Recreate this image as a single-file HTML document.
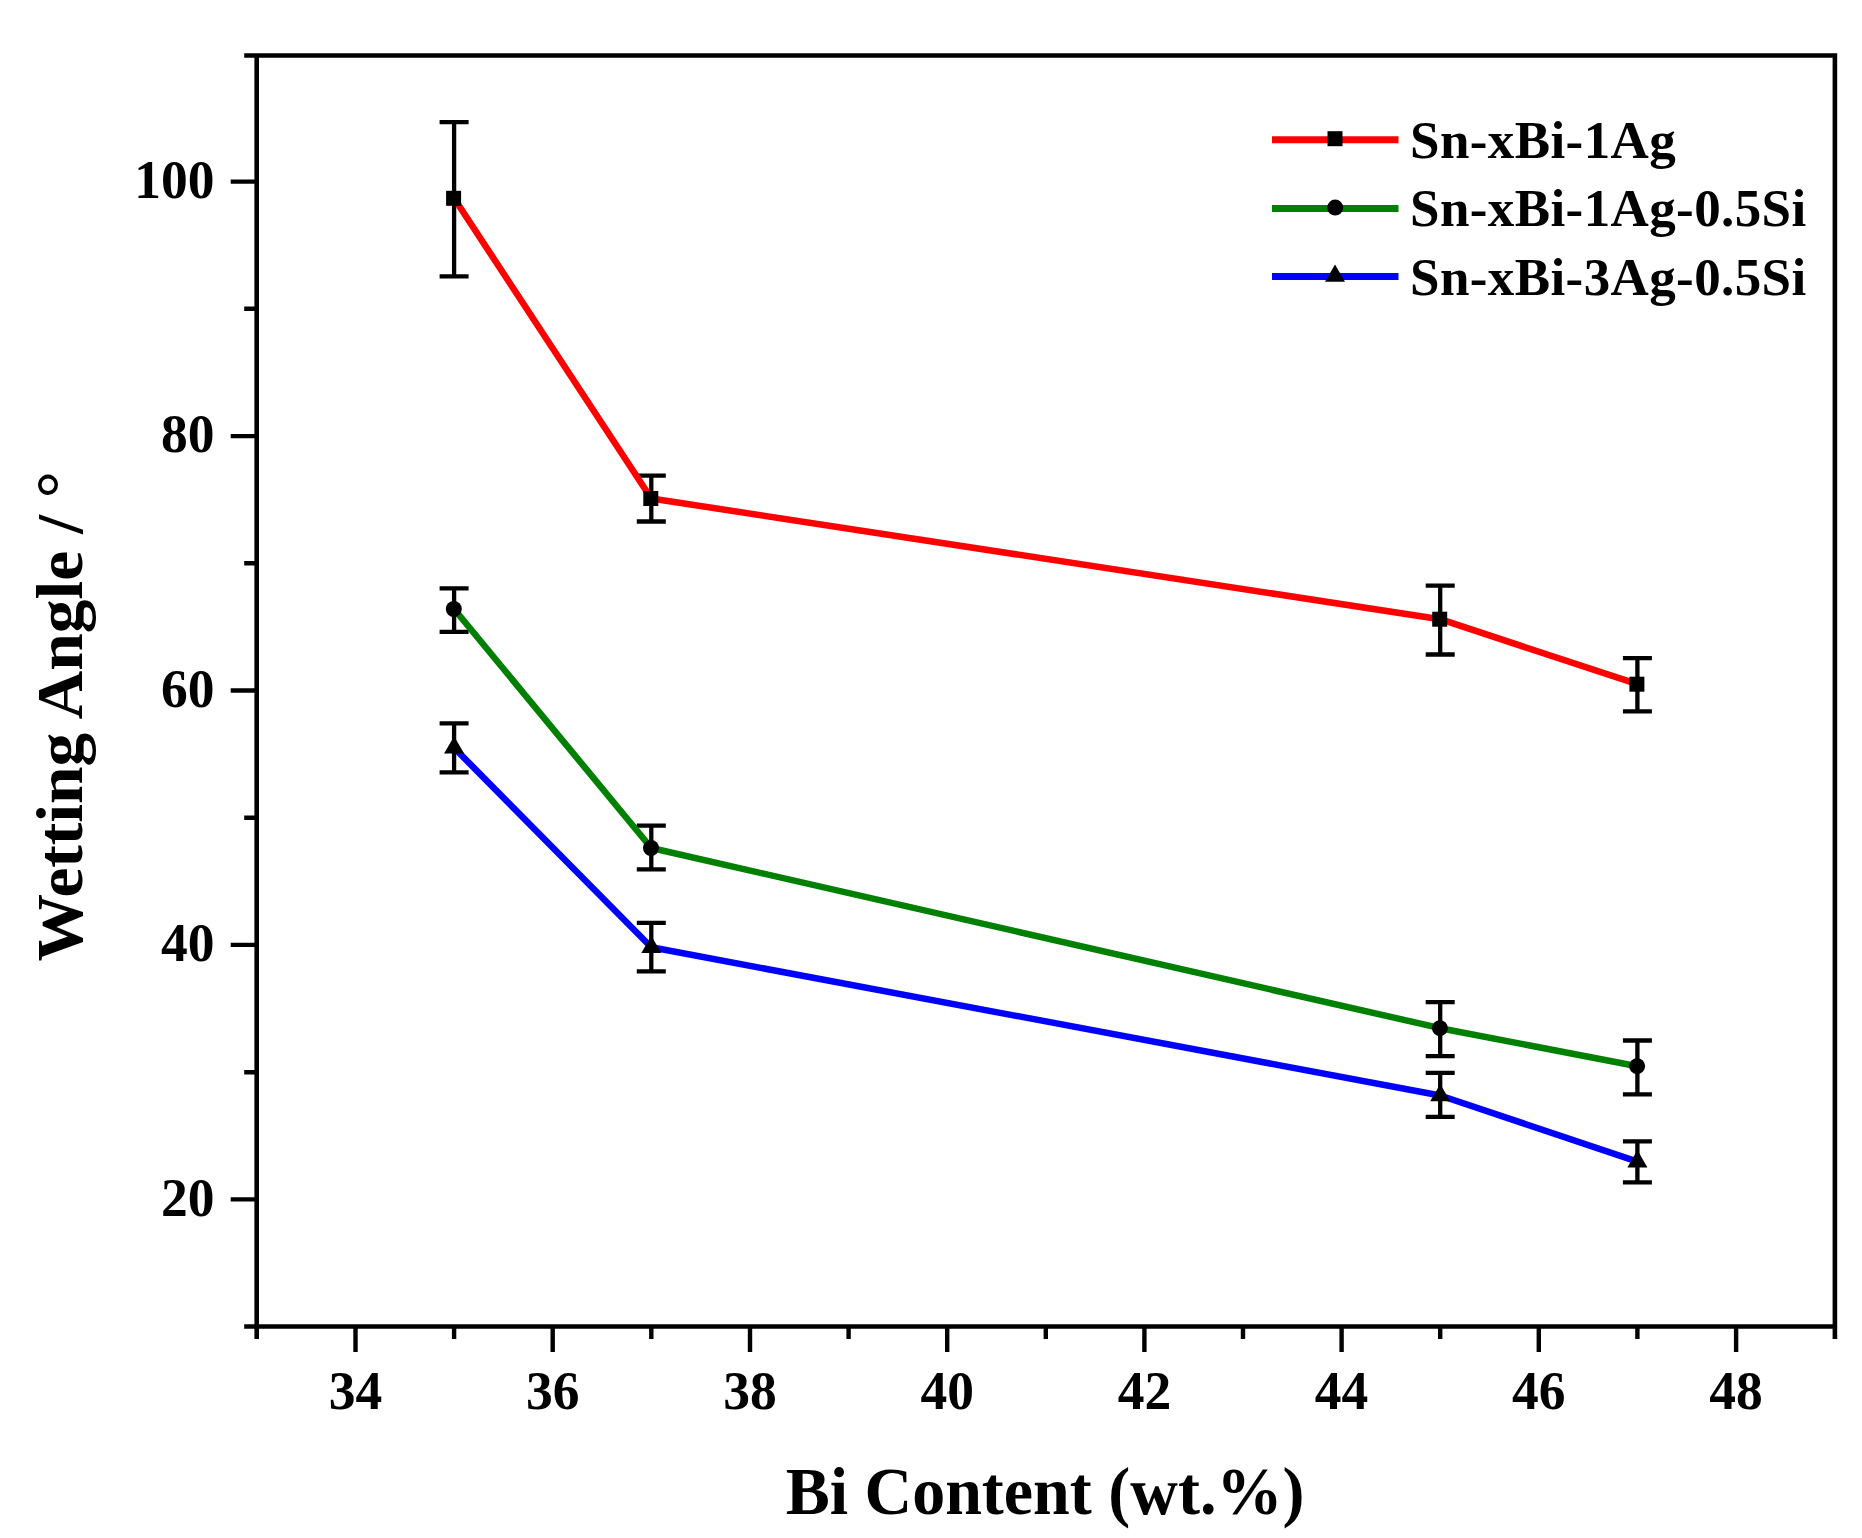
<!DOCTYPE html>
<html><head><meta charset="utf-8"><title>Wetting Angle vs Bi Content</title>
<style>
html,body{margin:0;padding:0;background:#fff;width:1862px;height:1538px;overflow:hidden}
svg{display:block}
text{font-family:"Liberation Serif","Times New Roman",serif;font-weight:bold;fill:#000}
.tl text{font-size:53.5px}
.lg{font-size:53px;letter-spacing:0.4px}
.at{font-size:66px}
</style></head><body>
<svg width="1862" height="1538" viewBox="0 0 1862 1538">
<path d="M244.2 55.5H1834.9V1339M1834.9 1326.5H244.2M256.7 55.5V1339" fill="none" stroke="#000" stroke-width="4.6"/>
<path d="M355.5 1326.5v25.5 M454.1 1326.5v12.5 M552.7 1326.5v25.5 M651.3 1326.5v12.5 M750.0 1326.5v25.5 M848.6 1326.5v12.5 M947.2 1326.5v25.5 M1045.8 1326.5v12.5 M1144.4 1326.5v25.5 M1243.0 1326.5v12.5 M1341.6 1326.5v25.5 M1440.2 1326.5v12.5 M1538.8 1326.5v25.5 M1637.4 1326.5v12.5 M1736.1 1326.5v25.5 M256.7 1199.4h-26 M256.7 1072.2h-12.5 M256.7 944.9h-26 M256.7 817.7h-12.5 M256.7 690.5h-26 M256.7 563.3h-12.5 M256.7 436.1h-26 M256.7 308.8h-12.5 M256.7 181.6h-26" fill="none" stroke="#000" stroke-width="4.4"/>
<g class="tl"><text x="355.5" y="0" transform="translate(0 1409.3) scale(1 1.035)" text-anchor="middle">34</text><text x="552.7" y="0" transform="translate(0 1409.3) scale(1 1.035)" text-anchor="middle">36</text><text x="750.0" y="0" transform="translate(0 1409.3) scale(1 1.035)" text-anchor="middle">38</text><text x="947.2" y="0" transform="translate(0 1409.3) scale(1 1.035)" text-anchor="middle">40</text><text x="1144.4" y="0" transform="translate(0 1409.3) scale(1 1.035)" text-anchor="middle">42</text><text x="1341.6" y="0" transform="translate(0 1409.3) scale(1 1.035)" text-anchor="middle">44</text><text x="1538.8" y="0" transform="translate(0 1409.3) scale(1 1.035)" text-anchor="middle">46</text><text x="1736.1" y="0" transform="translate(0 1409.3) scale(1 1.035)" text-anchor="middle">48</text><text x="214.5" y="0" transform="translate(0 1215.6) scale(1 1.035)" text-anchor="end">20</text><text x="214.5" y="0" transform="translate(0 961.1) scale(1 1.035)" text-anchor="end">40</text><text x="214.5" y="0" transform="translate(0 706.7) scale(1 1.035)" text-anchor="end">60</text><text x="214.5" y="0" transform="translate(0 452.3) scale(1 1.035)" text-anchor="end">80</text><text x="214.5" y="0" transform="translate(0 197.8) scale(1 1.035)" text-anchor="end">100</text></g>
<path d="M454.1 122.1V276.3M439.6 122.1h29.0M439.6 276.3h29.0 M651.3 475.6V521.5M636.8 475.6h29.0M636.8 521.5h29.0 M1440.2 585.6V654.5M1425.7 585.6h29.0M1425.7 654.5h29.0 M1637.4 658.2V711.3M1622.9 658.2h29.0M1622.9 711.3h29.0 M454.1 588.3V631.8M439.6 588.3h29.0M439.6 631.8h29.0 M651.3 825.7V869.4M636.8 825.7h29.0M636.8 869.4h29.0 M1440.2 1002.1V1056.1M1425.7 1002.1h29.0M1425.7 1056.1h29.0 M1637.4 1040.5V1094.3M1622.9 1040.5h29.0M1622.9 1094.3h29.0 M454.1 723.4V772.3M439.6 723.4h29.0M439.6 772.3h29.0 M651.3 922.8V971.4M636.8 922.8h29.0M636.8 971.4h29.0 M1440.2 1072.9V1116.9M1425.7 1072.9h29.0M1425.7 1116.9h29.0 M1637.4 1141.3V1182.4M1622.9 1141.3h29.0M1622.9 1182.4h29.0" fill="none" stroke="#000" stroke-width="4.3"/>
<polyline points="454.1,198.3 651.3,498.5 1440.2,619.2 1637.4,684.2" fill="none" stroke="#f00" stroke-width="6.5" stroke-linejoin="round"/>
<polyline points="454.1,609.0 651.3,848.0 1440.2,1028.2 1637.4,1066.2" fill="none" stroke="#008000" stroke-width="6.5" stroke-linejoin="round"/>
<polyline points="454.1,747.8 651.3,947.3 1440.2,1095.5 1637.4,1161.6" fill="none" stroke="#00f" stroke-width="6.5" stroke-linejoin="round"/>
<g fill="#000"><rect x="446.1" y="190.8" width="15" height="15"/><rect x="643.3" y="491.0" width="15" height="15"/><rect x="1432.2" y="611.7" width="15" height="15"/><rect x="1629.4" y="676.7" width="15" height="15"/><circle cx="453.8" cy="609.0" r="8"/><circle cx="651.0" cy="848.0" r="8"/><circle cx="1439.9" cy="1028.2" r="8"/><circle cx="1637.1" cy="1066.2" r="8"/><path d="M454.1 736.3L464.1 753.6H444.1Z"/><path d="M651.3 935.8L661.3 953.1H641.3Z"/><path d="M1440.2 1084.0L1450.2 1101.3H1430.2Z"/><path d="M1637.4 1150.1L1647.4 1167.4H1627.4Z"/></g>
<g><path d="M1272 139.7H1398.5" stroke="#f00" stroke-width="7"/><rect x="1327.5" y="131.2" width="15" height="15"/><text class="lg" x="1410" y="158.2">Sn-xBi-1Ag</text><path d="M1272 208.6H1398.5" stroke="#008000" stroke-width="7"/><circle cx="1335.2" cy="207.6" r="8"/><text class="lg" x="1410" y="226.3">Sn-xBi-1Ag-0.5Si</text><path d="M1272 276.5H1398.5" stroke="#00f" stroke-width="7"/><path d="M1335.0 264.5L1345.0 281.8H1325.0Z"/><text class="lg" x="1410" y="294.9">Sn-xBi-3Ag-0.5Si</text></g>
<text class="at" x="0" y="0" transform="translate(1045 1514) scale(1 1.035)" text-anchor="middle">Bi Content (wt.%)</text>
<text class="at" x="0" y="0" transform="translate(81.5 716.3) scale(1 1.023) rotate(-90)" text-anchor="middle">Wetting Angle / °</text>
</svg>
</body></html>
